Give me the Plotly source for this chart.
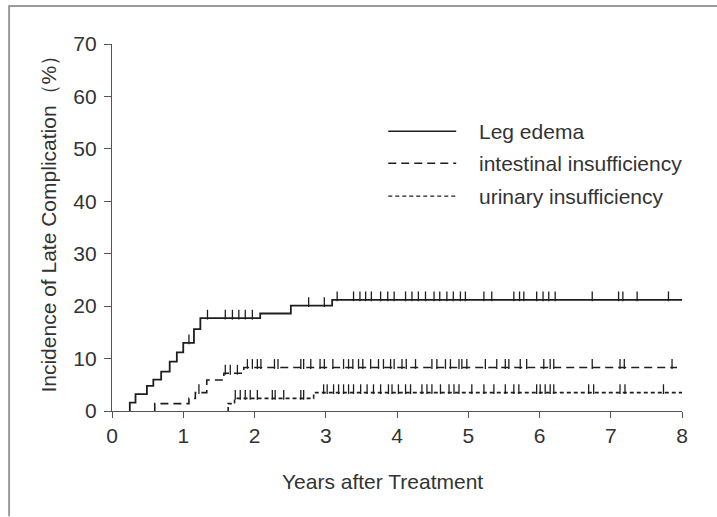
import numpy as np
import plotly.graph_objects as go

# ---------------- data ----------------
series_names = ["Leg edema", "intestinal insufficiency", "urinary insufficiency"]

leg_times = [0.25, 0.33, 0.49, 0.58, 0.69, 0.81, 0.91, 1.00, 1.15, 1.24, 2.08, 2.51, 3.09]
leg_values = [1.6, 3.2, 4.8, 6.0, 7.5, 9.4, 11.2, 13.0, 15.6, 17.7, 18.6, 20.1, 21.2]
leg_end = 8.0
leg_censor = [1.08, 1.34, 1.59, 1.69, 1.78, 1.87, 1.97, 2.76, 2.98, 3.16, 3.39, 3.48,
              3.56, 3.64, 3.77, 3.87, 3.96, 4.12, 4.21, 4.30, 4.40, 4.52, 4.60, 4.70,
              4.79, 4.89, 4.96, 5.22, 5.33, 5.64, 5.72, 5.78, 5.96, 6.05, 6.13, 6.22,
              6.74, 7.11, 7.17, 7.37, 7.81]

int_times = [0.60, 1.08, 1.17, 1.33, 1.57, 1.85]
int_values = [1.4, 2.4, 3.5, 5.9, 7.2, 8.3]
int_end = 7.93
int_censor = [1.22, 1.59, 1.66, 1.76, 1.90, 1.97, 2.04, 2.09, 2.28, 2.33, 2.65, 2.69,
              2.79, 2.92, 2.98, 3.10, 3.25, 3.32, 3.38, 3.46, 3.52, 3.63, 3.74, 3.81,
              3.91, 3.96, 4.07, 4.13, 4.26, 4.49, 4.56, 4.68, 4.75, 4.87, 4.91, 4.98,
              5.24, 5.40, 5.52, 5.57, 5.73, 5.82, 6.06, 6.15, 6.20, 6.74, 7.13, 7.19, 7.86]

uri_times = [1.63, 1.72, 2.83]
uri_values = [1.4, 2.4, 3.5]
uri_end = 8.0
uri_censor = [1.73, 1.80, 1.87, 1.94, 2.04, 2.25, 2.29, 2.41, 2.65, 2.69, 2.97, 3.02,
              3.11, 3.18, 3.25, 3.32, 3.39, 3.49, 3.58, 3.67, 3.77, 3.88, 3.93, 4.02,
              4.12, 4.19, 4.35, 4.42, 4.49, 4.61, 4.73, 4.80, 4.87, 5.05, 5.22, 5.36,
              5.52, 5.64, 5.71, 5.96, 6.01, 6.08, 6.15, 6.20, 6.69, 6.76, 7.13, 7.20, 7.74]

x_ticks = [0, 1, 2, 3, 4, 5, 6, 7, 8]
y_ticks = [0, 10, 20, 30, 40, 50, 60, 70]

x_title = "Years after Treatment"
y_title = "Incidence of Late Complication（%）"

# ---------------- layout geometry ----------------
W, H = 717, 517
ML, MR, MT, MB = 111.5, 35, 43.5, 105.5
PW, PH = W - ML - MR, H - MT - MB
FONT = "Liberation Sans, Arial, Helvetica, sans-serif"
INK = "#1e1e1e"
TXT = "#333333"
AX = "#555555"
FS = 21


def px_x(p):
    return (p - ML) / PW


def px_y(p):
    return 1 - (p - MT) / PH


def step_xy(times, values, end):
    xs = [times[0]] + list(times) + [end]
    ys = [0.0] + list(values) + [values[-1]]
    return xs, ys


def level_at(times, values, pts):
    t = np.asarray(times)
    v = np.asarray(values)
    idx = np.searchsorted(t, np.asarray(pts), side="right") - 1
    return np.where(idx >= 0, v[np.clip(idx, 0, None)], 0.0)


tick_px = 7
tick_off = (tick_px / 2) * (y_ticks[-1] - y_ticks[0]) / PH

styles = [
    dict(width=1.8, dash="solid"),
    dict(width=1.6, dash="8px,5px"),
    dict(width=1.6, dash="4px,3px"),
]

fig = go.Figure()
for name, (t, v, e, c), st in zip(
    series_names,
    [(leg_times, leg_values, leg_end, leg_censor),
     (int_times, int_values, int_end, int_censor),
     (uri_times, uri_values, uri_end, uri_censor)],
    styles,
):
    xs, ys = step_xy(t, v, e)
    fig.add_trace(go.Scatter(
        x=xs, y=ys, mode="lines", line_shape="hv", name=name,
        line=dict(color=INK, width=st["width"], dash=st["dash"]),
        showlegend=False, hoverinfo="skip",
    ))
    lev = level_at(t, v, c)
    fig.add_trace(go.Scatter(
        x=c, y=lev + tick_off, mode="markers", showlegend=False, hoverinfo="skip",
        marker=dict(symbol="line-ns", size=tick_px, color=INK,
                    line=dict(width=1.3, color=INK)),
    ))

# manual legend
shapes = []
annotations = []
leg_rows_px = [131, 163, 196]
for name, ypx, st in zip(series_names, leg_rows_px, styles):
    shapes.append(dict(type="line", xref="paper", yref="paper",
                       x0=px_x(388), x1=px_x(456), y0=px_y(ypx), y1=px_y(ypx),
                       line=dict(color=INK, width=st["width"] - 0.2, dash=st["dash"])))
    annotations.append(dict(text=name, xref="paper", yref="paper",
                            x=px_x(477), y=px_y(ypx), xanchor="left", yanchor="middle",
                            showarrow=False, font=dict(family=FONT, size=FS, color=TXT)))

# axis titles
annotations.append(dict(text=x_title, xref="paper", yref="paper",
                        x=px_x(382), y=px_y(482), xanchor="center", yanchor="middle",
                        showarrow=False, font=dict(family=FONT, size=FS, color=TXT)))
annotations.append(dict(text=y_title, xref="paper", yref="paper", textangle=-90,
                        x=px_x(47), y=px_y(219), xanchor="center", yanchor="middle",
                        showarrow=False, font=dict(family=FONT, size=21, color=TXT)))

# scanned page border (top and left edges)
shapes.append(dict(type="line", xref="paper", yref="paper",
                   x0=px_x(8), x1=px_x(717), y0=px_y(5.5), y1=px_y(5.5),
                   line=dict(color="#9a9a9a", width=2)))
shapes.append(dict(type="line", xref="paper", yref="paper",
                   x0=px_x(8.5), x1=px_x(8.5), y0=px_y(5), y1=px_y(517),
                   line=dict(color="#9a9a9a", width=2)))

fig.update_layout(
    width=W, height=H,
    margin=dict(l=ML, r=MR, t=MT, b=MB, pad=0),
    paper_bgcolor="white", plot_bgcolor="white",
    font=dict(family=FONT, color=TXT, size=FS),
    shapes=shapes, annotations=annotations,
    xaxis=dict(range=[x_ticks[0], x_ticks[-1]], tickvals=x_ticks, ticktext=[str(v) for v in x_ticks],
               showline=True, linecolor=AX, linewidth=1.3, ticks="outside", ticklen=6,
               tickwidth=1.3, tickcolor=AX, showgrid=False, zeroline=False,
               tickfont=dict(size=FS, color=TXT)),
    yaxis=dict(range=[y_ticks[0], y_ticks[-1]], tickvals=y_ticks, ticktext=[str(v) for v in y_ticks],
               showline=True, linecolor=AX, linewidth=1.3, ticks="outside", ticklen=7,
               tickwidth=1.3, tickcolor=AX, showgrid=False, zeroline=False,
               ticklabelstandoff=3,
               tickfont=dict(size=FS, color=TXT)),
)

fig.write_html("out.html")
